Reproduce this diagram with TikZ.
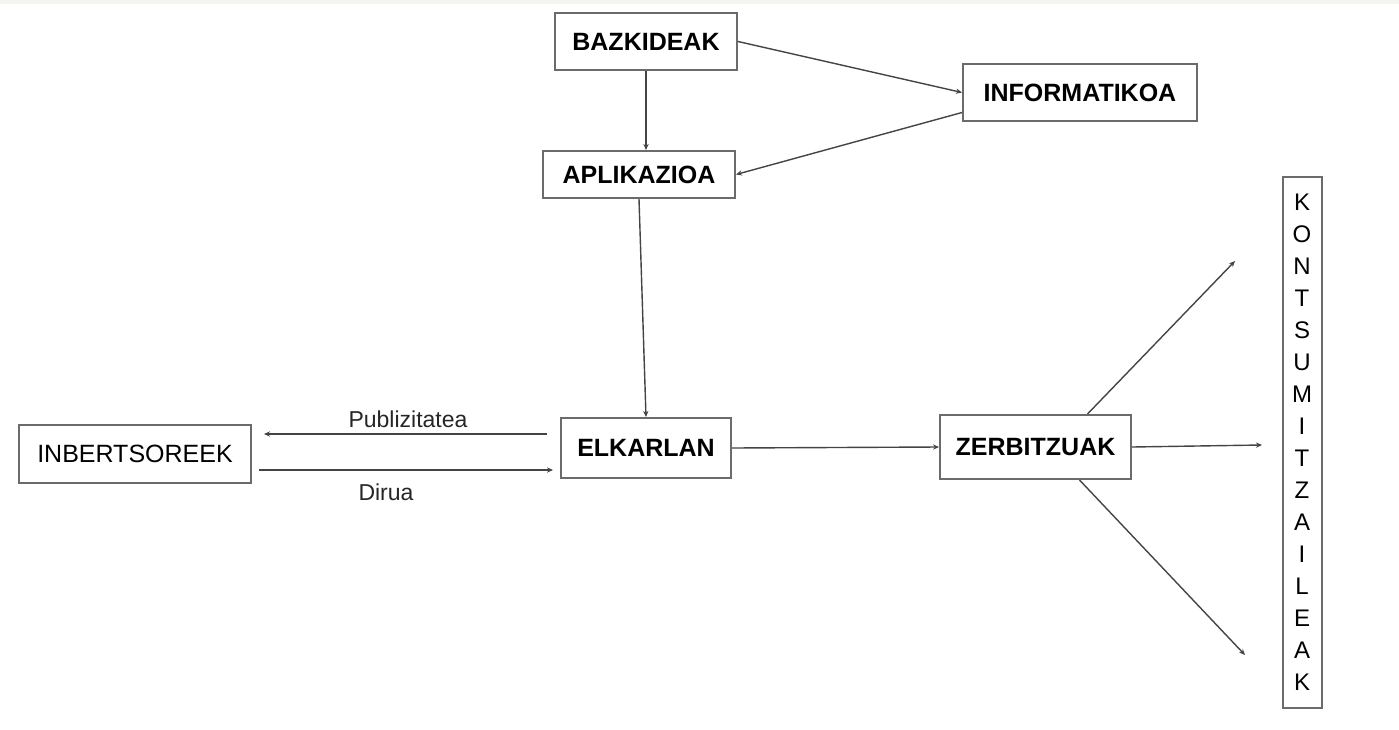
\documentclass[tikz,border=0pt]{standalone}
\usepackage{fontspec}
\setmainfont{Liberation Sans}
\usetikzlibrary{arrows.meta}
\definecolor{boxgray}{HTML}{6B6B6B}
\definecolor{linegray}{HTML}{444444}
\definecolor{bandgray}{HTML}{F4F5F0}
\begin{document}
\begin{tikzpicture}[x=0.5pt, y=-0.5pt,
    box/.style={draw=boxgray, line width=1pt, inner sep=0pt, font=\fontsize{12.5}{15}\selectfont},
    bbox/.style={box, font=\fontsize{12.5}{15}\selectfont\bfseries},
    conn/.style={draw=linegray, line width=0.7pt, -{Stealth[length=3pt,width=2.6pt]}},
    lbl/.style={inner sep=0pt, font=\fontsize{11.5}{14}\selectfont, text=black!85}]
    \useasboundingbox (0,0) rectangle (1399,729);
    \fill[bandgray] (0,0) rectangle (1399,4);

    \node[bbox, minimum width=91pt, minimum height=28.5pt] (bazkideak) at (646,41.5) {BAZKIDEAK};
    \node[bbox, minimum width=117pt, minimum height=28.5pt] (informatikoa) at (1080,92.5) {INFORMATIKOA};
    \node[bbox, minimum width=96pt, minimum height=23.5pt] (aplikazioa) at (639,174.5) {APLIKAZIOA};
    \node[box, minimum width=116pt, minimum height=29pt] (inbertsoreek) at (135,454) {INBERTSOREEK};
    \node[bbox, minimum width=85pt, minimum height=30pt] (elkarlan) at (646,448) {ELKARLAN};
    \node[bbox, minimum width=95.5pt, minimum height=32pt] (zerbitzuak) at (1035.5,447) {ZERBITZUAK};
    \node[box, minimum width=19.5pt, minimum height=265.5pt, align=center,
          font=\fontsize{12}{16}\selectfont] (kontsumitzaileak) at (1302,442.5)
        {K\\O\\N\\T\\S\\U\\M\\I\\T\\Z\\A\\I\\L\\E\\A\\K};

    \coordinate (goian) at (1235,261);
    \coordinate (erdian) at (1262,445);
    \coordinate (behean) at (1245,655);

    \draw[conn] (bazkideak.east) -- (informatikoa.west);
    \draw[conn] ([yshift=-10pt]informatikoa.west) -- (aplikazioa.east);
    \draw[conn] (bazkideak.south) -- (bazkideak.south |- aplikazioa.north);
    \draw[conn] (aplikazioa.south) -- (elkarlan.north);

    \draw[conn, shorten <=6.5pt, shorten >=6pt] ([yshift=7pt]elkarlan.west) -- ([yshift=7pt]elkarlan.west -| inbertsoreek.east);
    \draw[conn, shorten <=3.5pt, shorten >=3.5pt] ([yshift=-11pt]elkarlan.west -| inbertsoreek.east) -- ([yshift=-11pt]elkarlan.west);
    \node[lbl] (publizitatea) at (408,419) {Publizitatea};
    \node[lbl] (dirua) at (386,492) {Dirua};

    \draw[conn] (elkarlan.east) -- (zerbitzuak.west);
    \draw[conn] ([xshift=26pt]zerbitzuak.north) -- (goian);
    \draw[conn] (zerbitzuak.east) -- (erdian);
    \draw[conn] ([xshift=22pt]zerbitzuak.south) -- (behean);
\end{tikzpicture}
\end{document}
